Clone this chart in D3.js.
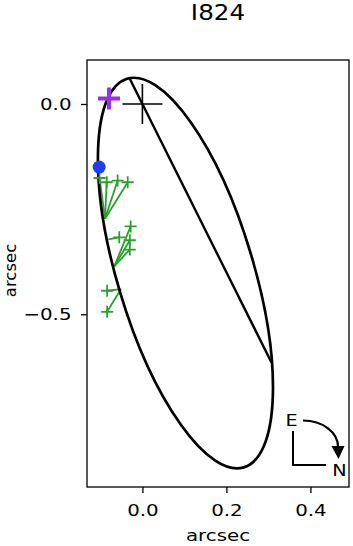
<!DOCTYPE html>
<html>
<head>
<meta charset="utf-8">
<script src="https://cdn.jsdelivr.net/npm/d3@7"></script>
<style>
	body { margin: 0; background: #fff; }
	text { font-family: "DejaVu Sans", sans-serif; fill: #000; }
</style>
</head>
<body>
<svg id="chart" width="353" height="546"></svg>
<script>
// ---- data (arcsec) ----
const title = 'I824';
const xTicks = [0.0, 0.2, 0.4];
const yTicks = [0.0, -0.5];

// orbit ellipse: centre, semi-axes, position angle of major axis (deg, from +x)
const orbitCentre = [0.1025, -0.402];
const orbitAxes = [0.483, 0.162];
const orbitAngle = -73.3;

// line of nodes end points
const nodesX = [-0.030, 0.307];
const nodesY = [0.060, -0.614];

// primary, companion reference mark, first point
const primary = [0, 0];
const markX = [-0.0795];
const markY = [0.0129];
const dotX = [-0.103];
const dotY = [-0.150];

// observations and predicted positions on the orbit
const obsX = [-0.102, -0.085, -0.059, -0.035, -0.028, -0.055, -0.030, -0.030, -0.084, -0.084];
const obsY = [-0.176, -0.186, -0.182, -0.186, -0.291, -0.317, -0.324, -0.346, -0.444, -0.494];
const fitX = [-0.089, -0.089, -0.089, -0.089, -0.067, -0.081, -0.067, -0.067, -0.051, -0.051];
const fitY = [-0.273, -0.273, -0.273, -0.273, -0.386, -0.322, -0.386, -0.386, -0.440, -0.440];

// ---- layout ----
const svg = d3.select('#chart');
const W = +svg.attr('width');
const margin = {top:60, right:4, bottom:59, left:87};
const innerWidth = W - margin.left - margin.right;
const innerHeight = +svg.attr('height') - margin.top - margin.bottom;
const stretch = 1.2; // text in the picture is wider than tall
const fs = 16.5;

// widen glyphs without a transform
function widen(sel) {
	sel.each(function() {
		const w = this.getComputedTextLength();
		d3.select(this).attr('textLength', w*stretch).attr('lengthAdjust', 'spacingAndGlyphs');
	});
}

const xScale = d3.scaleLinear().domain([-0.1319, 0.4919]).range([0, innerWidth]);
const yScale = d3.scaleLinear().domain([-0.9106, 0.1046]).range([innerHeight, 0]);

const g = svg.append('g').attr('transform', `translate(${margin.left},${margin.top})`);

svg.append('text')
	.attr('x', margin.left + innerWidth/2).attr('y', 20)
	.attr('text-anchor', 'middle')
	.attr('font-size', 20.5)
	.text(title)
	.call(widen);

const fmt = d => d3.format('.1f')(d).replace('-', '\u2212');

const xAxis = d3.axisBottom(xScale).tickValues(xTicks).tickFormat(fmt).tickSize(6).tickPadding(11);
const xAxisG = g.append('g').attr('transform', `translate(0,${innerHeight})`).call(xAxis);
const yAxis = d3.axisLeft(yScale).tickValues(yTicks).tickFormat(fmt).tickSize(6).tickPadding(9.5);
const yAxisG = g.append('g').call(yAxis);
[xAxisG, yAxisG].forEach(a => {
	a.select('.domain').remove();
	a.selectAll('line').attr('stroke', '#000').attr('stroke-width', 1.3);
	a.selectAll('text').attr('font-size', fs).attr('fill', '#000')
		.style('font-family', '"DejaVu Sans", sans-serif')
		.call(widen);
});

svg.append('text')
	.attr('x', margin.left + innerWidth/2).attr('y', 541)
	.attr('text-anchor', 'middle')
	.attr('font-size', fs)
	.text('arcsec')
	.call(widen);
svg.append('text')
	.attr('transform', `translate(16,${margin.top + innerHeight/2 - 3}) rotate(-90)`)
	.attr('text-anchor', 'middle')
	.attr('font-size', fs)
	.text('arcsec');

// clip region
g.append('clipPath').attr('id', 'clip')
	.append('rect').attr('width', innerWidth).attr('height', innerHeight);
const plot = g.append('g').attr('clip-path', 'url(#clip)');

// residual lines
const green = '#2ca02c';
plot.selectAll('line.res').data(obsX).enter().append('line')
	.attr('class', 'res')
	.attr('x1', (d, i) => xScale(obsX[i])).attr('y1', (d, i) => yScale(obsY[i]))
	.attr('x2', (d, i) => xScale(fitX[i])).attr('y2', (d, i) => yScale(fitY[i]))
	.attr('stroke', green).attr('stroke-width', 1.8);

// orbit
const pxPerUnitX = xScale(1) - xScale(0);
const pxPerUnitY = yScale(0) - yScale(1);
plot.append('ellipse')
	.attr('transform', `translate(${xScale(orbitCentre[0])},${yScale(orbitCentre[1])}) rotate(${-orbitAngle})`)
	.attr('rx', orbitAxes[0]*pxPerUnitX)
	.attr('ry', orbitAxes[1]*pxPerUnitY)
	.attr('fill', 'none').attr('stroke', '#000').attr('stroke-width', 2.7);

plot.append('line')
	.attr('x1', xScale(nodesX[0])).attr('y1', yScale(nodesY[0]))
	.attr('x2', xScale(nodesX[1])).attr('y2', yScale(nodesY[1]))
	.attr('stroke', '#000').attr('stroke-width', 2.4);

// plus marker helper
function plus(sel, x, y, size, color, width) {
	const h = size/2;
	sel.append('path')
		.attr('d', `M${x-h},${y}H${x+h}M${x},${y-h}V${y+h}`)
		.attr('stroke', color).attr('stroke-width', width).attr('fill', 'none');
}

obsX.forEach((d, i) => plus(plot, xScale(obsX[i]), yScale(obsY[i]), 12, green, 1.8));

plus(plot, xScale(primary[0]), yScale(primary[1]), 40, '#000', 1.6);
plus(plot, xScale(markX[0]), yScale(markY[0]), 22, '#9b2fe8', 4);

plot.selectAll('circle.first').data(dotX).enter().append('circle')
	.attr('cx', (d, i) => xScale(dotX[i])).attr('cy', (d, i) => yScale(dotY[i]))
	.attr('r', 6.5).attr('fill', '#1f3cff');

// frame
g.append('rect').attr('width', innerWidth).attr('height', innerHeight)
	.attr('fill', 'none').attr('stroke', '#000').attr('stroke-width', 1.3);

// compass (E / N)
const cx0 = margin.left + innerWidth - 56, cy0 = margin.top + innerHeight - 56;
const comp = svg.append('g').attr('transform', `translate(${cx0},${cy0})`);
comp.append('path').attr('d', 'M0,0V34H33').attr('fill', 'none').attr('stroke', '#000').attr('stroke-width', 2);
comp.append('text').attr('x', -1.5).attr('y', -5).attr('text-anchor', 'middle').attr('font-size', 16).text('E').call(widen);
comp.append('text').attr('x', 46.5).attr('y', 45).attr('text-anchor', 'middle').attr('font-size', 16).text('N').call(widen);
comp.append('path').attr('d', 'M10,-10.5 A35,26 0 0 1 45,16').attr('fill', 'none').attr('stroke', '#000').attr('stroke-width', 2.2);
comp.append('path').attr('d', 'M38.5,15L51.5,15L45.5,28Z').attr('fill', '#000');
</script>
</body>
</html>
